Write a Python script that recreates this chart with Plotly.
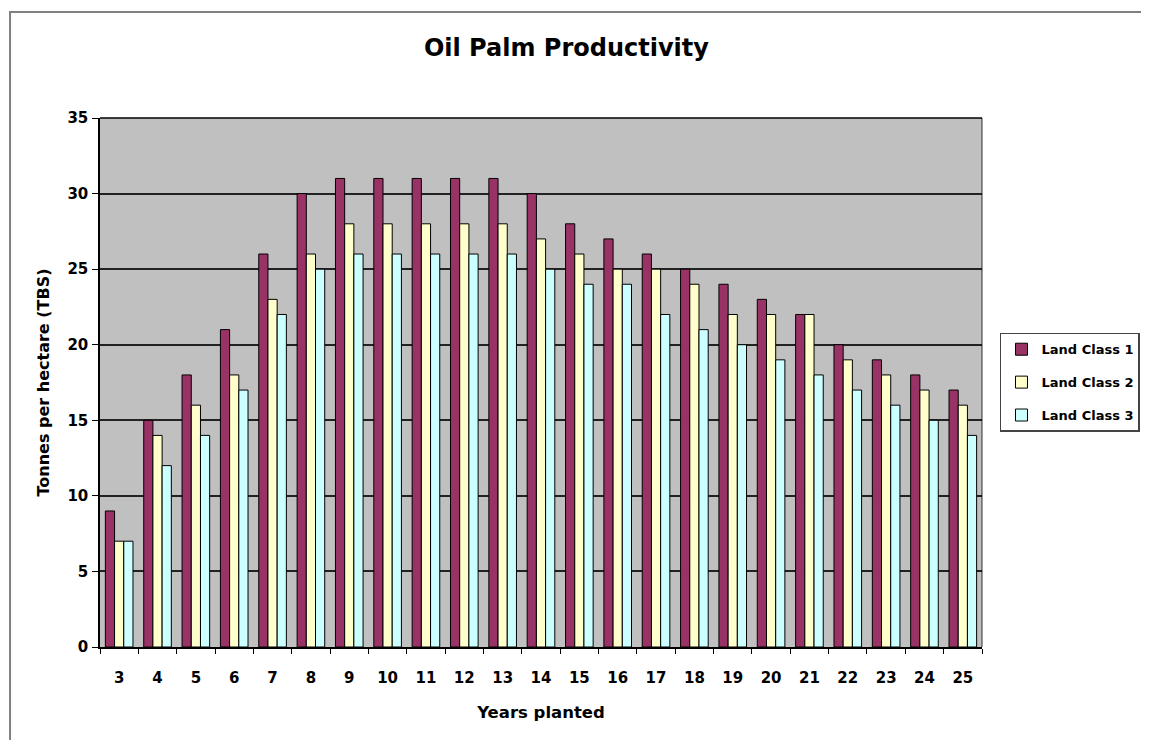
import plotly.graph_objects as go

years = ["3", "4", "5", "6", "7", "8", "9", "10", "11", "12", "13", "14",
         "15", "16", "17", "18", "19", "20", "21", "22", "23", "24", "25"]
land_class_1 = [9, 15, 18, 21, 26, 30, 31, 31, 31, 31, 31, 30, 28, 27, 26, 25, 24, 23, 22, 20, 19, 18, 17]
land_class_2 = [7, 14, 16, 18, 23, 26, 28, 28, 28, 28, 28, 27, 26, 25, 25, 24, 22, 22, 22, 19, 18, 17, 16]
land_class_3 = [7, 12, 14, 17, 22, 25, 26, 26, 26, 26, 26, 25, 24, 24, 22, 21, 20, 19, 18, 17, 16, 15, 14]
series_names = ["Land Class 1", "Land Class 2", "Land Class 3"]
colors = ["#993366", "#FFFFCC", "#CCFFFF"]

FONT = "DejaVu Sans"

fig = go.Figure()
for name, vals, col in zip(series_names, [land_class_1, land_class_2, land_class_3], colors):
    fig.add_trace(go.Bar(
        x=years, y=vals, name=name, legendgroup=name,
        marker=dict(color=col, line=dict(color="#000000", width=1)),
    ))

fig.update_layout(
    width=1149, height=740,
    margin=dict(l=92, r=175, t=110, b=101),
    paper_bgcolor="white",
    plot_bgcolor="#C0C0C0",
    barmode="group",
    bargap=0.28,
    bargroupgap=0,
    font=dict(family=FONT, color="#000000"),
    title=dict(text="<b>Oil Palm Productivity</b>", x=0.486, xanchor="center",
               y=0.947, yanchor="middle", font=dict(size=24, family=FONT)),
    legend=dict(x=1.0204, y=0.594, xanchor="left", yanchor="top",
                bgcolor="white", bordercolor="#444444", borderwidth=1.5,
                font=dict(size=13, family=FONT, weight="bold"), tracegroupgap=13,
                traceorder="grouped", itemwidth=30),
    xaxis=dict(
        type="category", tickson="boundaries", ticks="outside", ticklen=5,
        tickcolor="#000000", showline=True, linecolor="#000000", linewidth=1.5,
        showgrid=False, ticklabelstandoff=16,
        tickfont=dict(size=15, family=FONT, weight="bold"),
        title=dict(text="<b>Years planted</b>", font=dict(size=16.5, family=FONT), standoff=21),
    ),
    yaxis=dict(
        range=[0, 35], dtick=5, ticks="outside", ticklen=6, tickcolor="#000000",
        showline=True, linecolor="#000000", linewidth=1.5,
        showgrid=True, gridcolor="#222222", gridwidth=1.5,
        zeroline=False, ticklabelstandoff=1,
        tickfont=dict(size=15, family=FONT, weight="bold"),
        tickformat="d",
        title=dict(text="<b>Tonnes per hectare (TBS)</b>", font=dict(size=16, family=FONT), standoff=14),
    ),
    showlegend=True,
)

# Outer chart border (cut off at right and bottom in the reference)
fig.add_shape(type="rect", xref="paper", yref="paper",
              x0=-0.102, x1=1.3, y0=-0.3, y1=1.2004,
              line=dict(color="#808080", width=2), fillcolor="rgba(0,0,0,0)", layer="below")
# Top and right border lines of plot area
fig.add_shape(type="line", xref="paper", yref="paper", x0=0, x1=1, y0=1, y1=1,
              line=dict(color="#000000", width=1.5))
fig.add_shape(type="line", xref="paper", yref="paper", x0=1, x1=1, y0=0, y1=1,
              line=dict(color="#000000", width=0.8))

fig.write_html("out.html")
